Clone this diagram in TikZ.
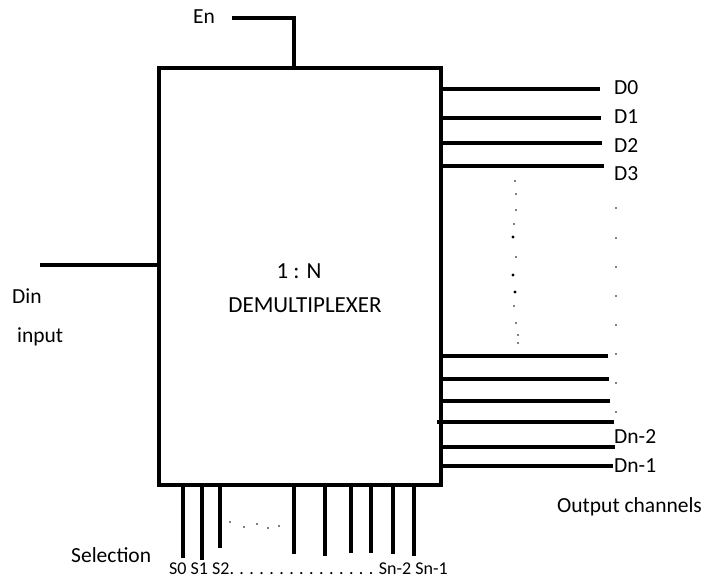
\documentclass[tikz,border=0pt]{standalone}
\usepackage{fontspec}
\setmainfont{Carlito}
\begin{document}
\begin{tikzpicture}[x=1pt,y=-1pt,
  wire/.style={line width=3.2pt},
  lbl/.style={font=\fontsize{21.5}{24}\selectfont, inner sep=0pt, anchor=base west},
  ctr/.style={font=\fontsize{23}{26}\selectfont, inner sep=0pt, anchor=base},
  sel/.style={font=\fontsize{18}{20}\selectfont, inner sep=0pt, anchor=base west},
  dotm/.style={circle, fill=black, inner sep=0pt, minimum size=#1}]
\useasboundingbox (0,0) rectangle (703,578);
% main block
\node[draw, line width=3.2pt, minimum width=282pt, minimum height=417pt, inner sep=0pt] (dm) at (300,276.5) {};
\node[ctr] (t1) at (299,278) {1 : N};
\node[ctr] (t2) at (305,312) {DEMULTIPLEXER};
% enable
\node[lbl] (en) at (193,24) {En};
\coordinate (en0) at (232,18);
\coordinate (enj) at (294,69);
\draw[wire] (en0) -| (enj);
% data input
\node[lbl] (din) at (12,303) {Din};
\node[lbl] (inp) at (17,342) {input};
\coordinate (din0) at (40,265);
\draw[wire] (din0) -- (dm.west |- din0);
% outputs
\foreach \i/\y/\e in {0/89/600, 1/118/601, 2/143/602, 3/166/604, 4/356/608, 5/379/609, 6/401/610, 8/447/615, 9/466/613}{
  \coordinate (o\i) at (\e,\y);
  \draw[wire] (dm.east |- o\i) -- (o\i);
}
\coordinate (o7) at (614,422);
\coordinate (o7s) at (437,422);
\draw[wire] (o7s) -- (o7);
\node[lbl] (d0) at (614,94) {D0};
\node[lbl] (d1) at (614,123) {D1};
\node[lbl] (d2) at (614,152) {D2};
\node[lbl] (d3) at (614,180) {D3};
\node[lbl] (dn2) at (614,443) {Dn-2};
\node[lbl] (dn1) at (614,472) {Dn-1};
\node[lbl] (oc) at (557,512) {Output channels};
% right column dots
\foreach \y [count=\k] in {208,238,267,296,325,354,383,412}{
  \node[dotm=1.8pt] (rd\k) at (616,\y) {};
}
% middle dots
\foreach \x/\y/\s [count=\k] in {515/181/1.8, 516/194/1.8, 516/210/1.8, 514/224/1.8, 513/237/3.2, 516/257/1.8, 513/275/3.4, 515/292/3.2, 514/306/1.8, 516/323/1.8, 518/335/1.8, 518/343/1.8}{
  \node[dotm=\s pt] (md\k) at (\x,\y) {};
}
% selection lines
\foreach \x/\b [count=\k] in {183/558, 202/560, 220/548, 294/554, 325/556, 351/553, 371/553, 393/554, 414/556}{
  \coordinate (s\k) at (\x,\b);
  \draw[wire] (dm.south -| s\k) -- (s\k);
}
\foreach \x/\y [count=\k] in {230/522, 244/527, 257/524, 268/528, 279/526}{
  \node[dotm=1.8pt] (bd\k) at (\x,\y) {};
}
\node[lbl] (selt) at (71,562) {Selection};
\node[sel] (sl) at (169,574) {S0 S1 S2. . . . . . . . . . . . . . . Sn-2 Sn-1};
\end{tikzpicture}
\end{document}
